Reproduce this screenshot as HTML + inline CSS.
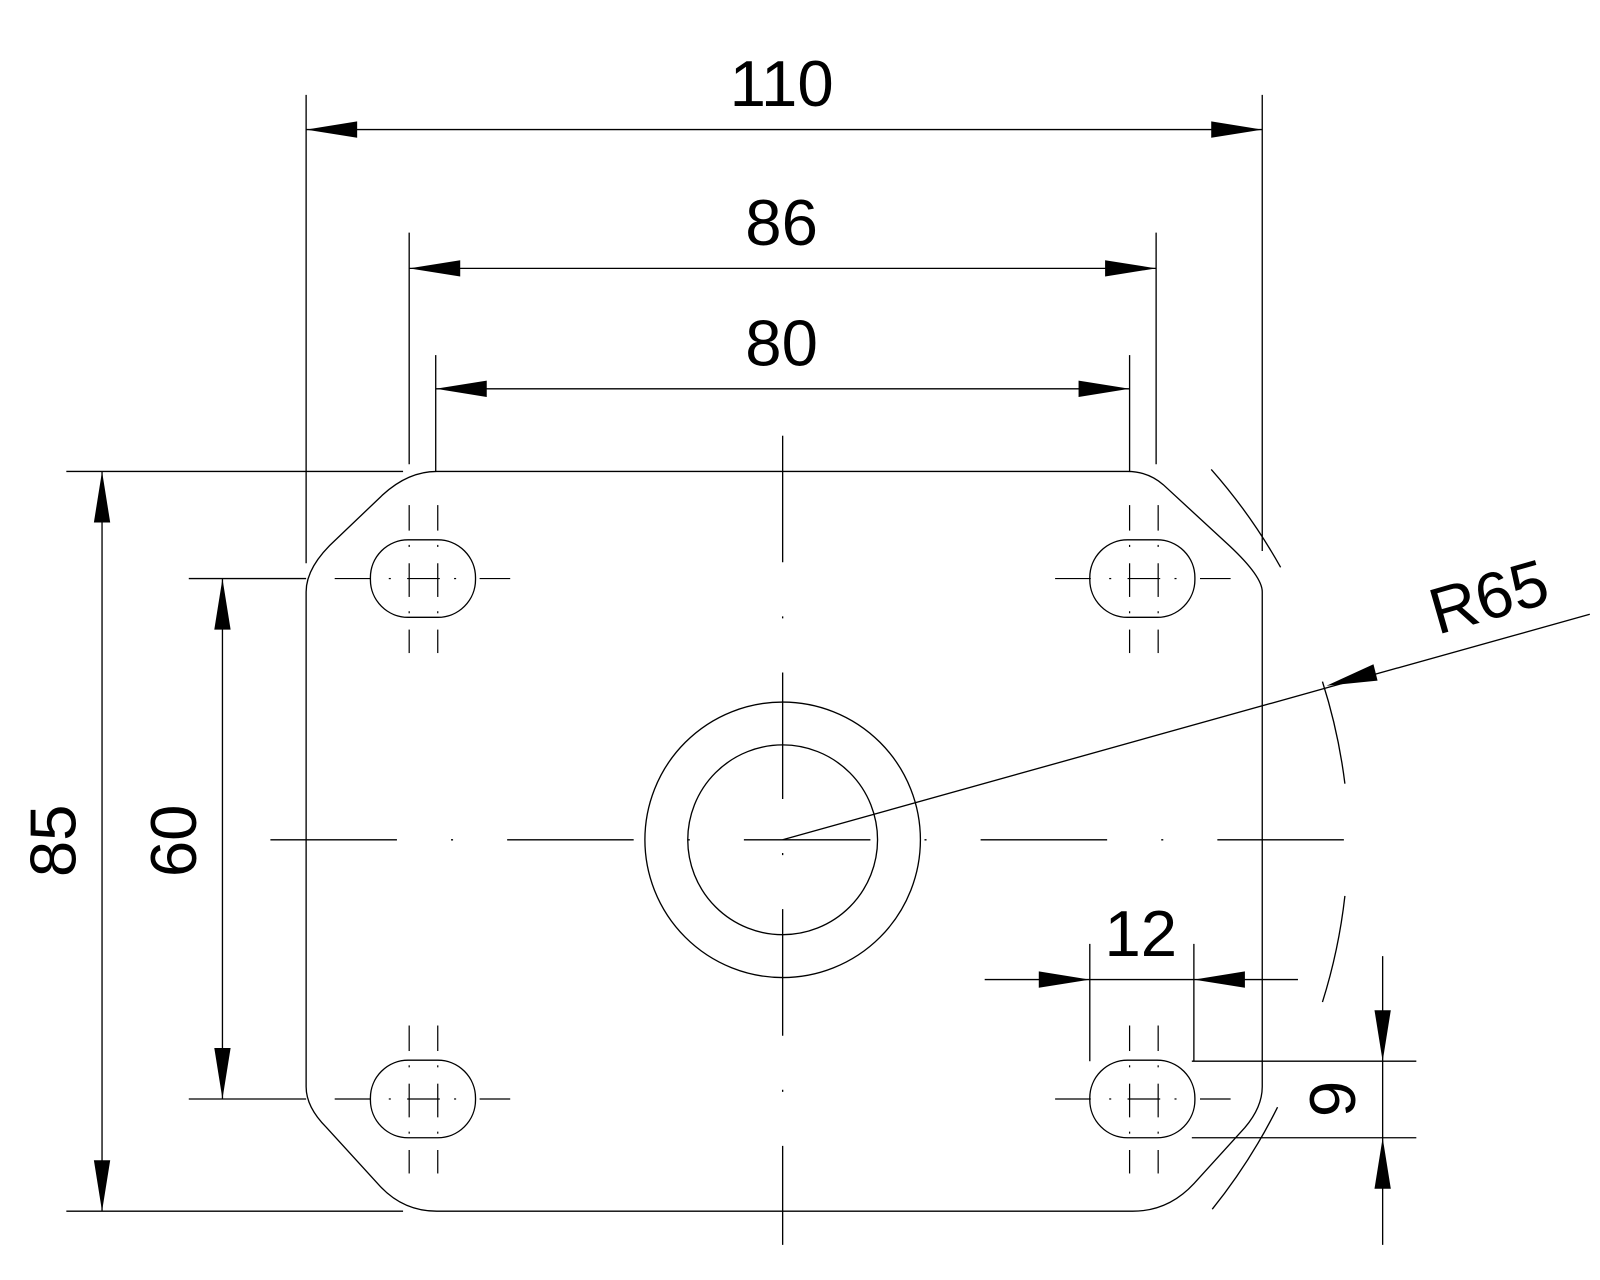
<!DOCTYPE html>
<html><head><style>html,body{margin:0;padding:0;background:#fff}svg{display:block}</style></head>
<body>
<svg width="1600" height="1280" viewBox="0 0 1568 1254.4" xmlns="http://www.w3.org/2000/svg" font-family="Liberation Sans, sans-serif">
<rect x="0" y="0" width="1568" height="1254.4" fill="#fff"/>
<defs>
<g id="slotcl" stroke="#000" stroke-width="1.2" fill="none">
<line x1="-14" y1="-72" x2="-14" y2="-47"/>
<line x1="14" y1="-72" x2="14" y2="-47"/>
<line x1="-14" y1="50" x2="-14" y2="73"/>
<line x1="14" y1="50" x2="14" y2="73"/>
<line x1="-14" y1="-15" x2="-14" y2="18"/>
<line x1="14" y1="-15" x2="14" y2="18"/>
<line x1="-87" y1="0" x2="-52" y2="0"/>
<line x1="-16" y1="0" x2="16" y2="0"/>
<line x1="55" y1="0" x2="85" y2="0"/>
<line x1="-34" y1="0" x2="-32" y2="0"/>
<line x1="30" y1="0" x2="32" y2="0"/>
<line x1="-14" y1="-33" x2="-14" y2="-31"/>
<line x1="14" y1="-33" x2="14" y2="-31"/>
<line x1="-14" y1="32" x2="-14" y2="34"/>
<line x1="14" y1="32" x2="14" y2="34"/>
</g>
</defs>
<g stroke="#000" stroke-width="1.3" fill="none">
<path d="M428,462 L1105,462 Q1125,462 1140,475 L1205,535 Q1237,565 1237,580 L1237,1065 Q1237,1085 1220,1105 L1170,1160 Q1145,1187 1110,1187 L428,1187 Q395,1187 372,1162 L320,1105 Q300,1085 300,1065 L300,580 Q300,555 330,528 L375,485 Q400,462 428,462 Z"/>
<rect x="363" y="529" width="103" height="76" rx="37"/>
<rect x="1068" y="529" width="103" height="76" rx="37"/>
<rect x="363" y="1039" width="103" height="76" rx="37"/>
<rect x="1068" y="1039" width="103" height="76" rx="37"/>
<circle cx="767" cy="823" r="135"/>
<circle cx="767" cy="823" r="93"/>
<path d="M1187,460 A550,550 0 0 1 1255,556"/>
<path d="M1296,668 A550,550 0 0 1 1318,768"/>
<path d="M1318,878 A550,550 0 0 1 1296,982"/>
<path d="M1252,1085 A550,550 0 0 1 1188,1185"/>
<line x1="300" y1="93" x2="300" y2="552"/>
<line x1="1237" y1="93" x2="1237" y2="540"/>
<line x1="401" y1="228" x2="401" y2="455"/>
<line x1="1133" y1="228" x2="1133" y2="455"/>
<line x1="427" y1="348" x2="427" y2="462"/>
<line x1="1107" y1="348" x2="1107" y2="462"/>
<line x1="65" y1="462" x2="395" y2="462"/>
<line x1="65" y1="1187" x2="395" y2="1187"/>
<line x1="185" y1="567" x2="300" y2="567"/>
<line x1="185" y1="1077" x2="300" y2="1077"/>
<line x1="1068" y1="925" x2="1068" y2="1040"/>
<line x1="1170" y1="925" x2="1170" y2="1040"/>
<line x1="1168" y1="1040" x2="1388" y2="1040"/>
<line x1="1168" y1="1115" x2="1388" y2="1115"/>
<line x1="300" y1="127" x2="1237" y2="127"/>
<line x1="401" y1="263" x2="1133" y2="263"/>
<line x1="427" y1="381" x2="1107" y2="381"/>
<line x1="100" y1="462" x2="100" y2="1187"/>
<line x1="218" y1="567" x2="218" y2="1077"/>
<line x1="965" y1="960" x2="1272" y2="960"/>
<line x1="1355" y1="937" x2="1355" y2="1220"/>
<line x1="767" y1="823" x2="1558" y2="602"/>
<g stroke-dasharray="124 53 2 53">
<line x1="265" y1="823" x2="1330" y2="823"/>
<line x1="767" y1="427" x2="767" y2="1220"/>
</g>
</g>
<use href="#slotcl" x="415" y="567"/>
<use href="#slotcl" x="1121" y="567"/>
<use href="#slotcl" x="415" y="1077"/>
<use href="#slotcl" x="1121" y="1077"/>
<g fill="#000">
<polygon points="300,127 350,119 350,135"/>
<polygon points="1237,127 1187,119 1187,135"/>
<polygon points="401,263 451,255 451,271"/>
<polygon points="1133,263 1083,255 1083,271"/>
<polygon points="427,381 477,373 477,389"/>
<polygon points="1107,381 1057,373 1057,389"/>
<polygon points="100,462 92,512 108,512"/>
<polygon points="100,1187 92,1137 108,1137"/>
<polygon points="218,567 210,617 226,617"/>
<polygon points="218,1077 210,1027 226,1027"/>
<polygon points="1068,960 1018,952 1018,968"/>
<polygon points="1170,960 1220,952 1220,968"/>
<polygon points="1355,1040 1347,990 1363,990"/>
<polygon points="1355,1115 1347,1165 1363,1165"/>
<polygon points="1300,672 1346,651 1350,667"/>
</g>
<g font-size="64" fill="#000" text-anchor="middle">
<text x="766" y="104">110</text>
<text x="766" y="240">86</text>
<text x="766" y="358">80</text>
<text x="1118" y="937">12</text>
<text transform="translate(74,824) rotate(-90)">85</text>
<text transform="translate(192,824) rotate(-90)">60</text>
<text transform="translate(1328,1077) rotate(-90)">9</text>
<text transform="translate(1465,606) rotate(-16)">R65</text>
</g>
</svg>
</body></html>
